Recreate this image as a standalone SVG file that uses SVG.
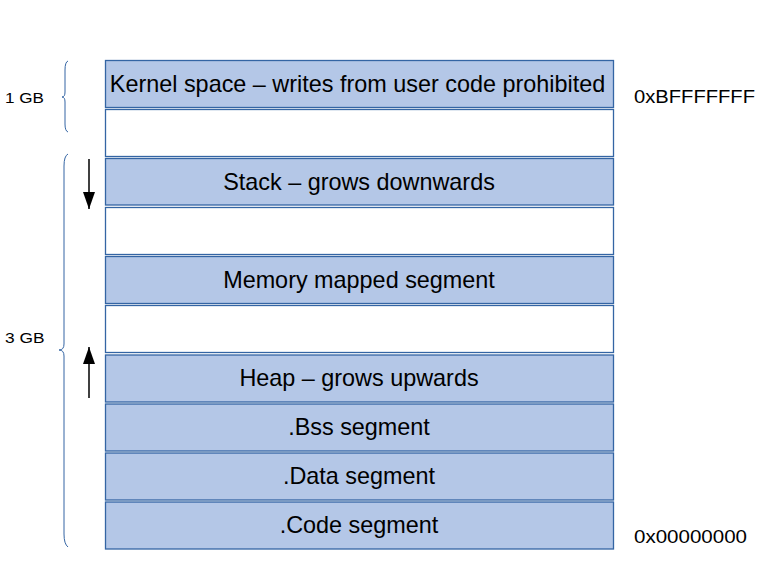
<svg xmlns="http://www.w3.org/2000/svg" width="777" height="580" viewBox="0 0 777 580">
<defs>
<style>
.box{stroke:#3465a4;stroke-width:1.3}
.f{fill:#b4c7e7}
.w{fill:#ffffff}
.t{font-family:"Liberation Sans",Arial,sans-serif;font-size:23.4px;fill:#000;text-anchor:middle}
.a{font-family:"Liberation Sans",Arial,sans-serif;font-size:19px;fill:#000}
.g{font-family:"Liberation Sans",Arial,sans-serif;font-size:15.5px;fill:#000}
.br{fill:none;stroke:#3465a4;stroke-width:1}
.ar{stroke:#000;stroke-width:1.5}
</style>
<marker id="ah" viewBox="0 0 17 12" refX="17" refY="6" markerWidth="17" markerHeight="12" markerUnits="userSpaceOnUse" orient="auto">
<path d="M0,0 L17,6 L0,12 Z" fill="#000"/>
</marker>
</defs>
<rect width="777" height="580" fill="#fff"/>
<g id="kernel"><rect class="box f" x="105.5" y="60.5" width="508" height="47"/><text class="t" x="357.5" y="92.2">Kernel space – writes from user code prohibited</text></g>
<g id="gap1"><rect class="box w" x="105.5" y="109.5" width="508" height="47"/></g>
<g id="stack"><rect class="box f" x="105.5" y="158.5" width="508" height="46.5"/><text class="t" x="359" y="190">Stack – grows downwards</text></g>
<g id="gap2"><rect class="box w" x="105.5" y="207.5" width="508" height="47"/></g>
<g id="mmap"><rect class="box f" x="105.5" y="256.5" width="508" height="47"/><text class="t" x="359" y="288.3">Memory mapped segment</text></g>
<g id="gap3"><rect class="box w" x="105.5" y="305.5" width="508" height="47"/></g>
<g id="heap"><rect class="box f" x="105.5" y="355" width="508" height="47"/><text class="t" x="359" y="386">Heap – grows upwards</text></g>
<g id="bss"><rect class="box f" x="105.5" y="404" width="508" height="47"/><text class="t" x="359" y="434.5">.Bss segment</text></g>
<g id="data"><rect class="box f" x="105.5" y="453" width="508" height="47"/><text class="t" x="359" y="484">.Data segment</text></g>
<g id="code"><rect class="box f" x="105.5" y="502" width="508" height="47"/><text class="t" x="359" y="533.3">.Code segment</text></g>
<g id="addr-top"><text class="a" x="634" y="102.5" textLength="121" lengthAdjust="spacingAndGlyphs">0xBFFFFFFF</text></g>
<g id="addr-bottom"><text class="a" x="634" y="542.5" textLength="113" lengthAdjust="spacingAndGlyphs">0x00000000</text></g>
<g id="brace-1gb"><path class="br" d="M68,61 Q65,62 65,70 L65,92 Q65,97 62,97 Q65,97 65,102 L65,124 Q65,131 68,132"/><text class="g" x="5" y="103" textLength="39" lengthAdjust="spacingAndGlyphs">1 GB</text></g>
<g id="brace-3gb"><path class="br" d="M68,154 Q64,156 64,166 L64,344 Q64,350 59,350 Q64,350 64,356 L64,534 Q64,544 68,547"/><text class="g" x="5" y="343" textLength="39.5" lengthAdjust="spacingAndGlyphs">3 GB</text></g>
<g id="connectors">
<line class="ar" x1="89" y1="159" x2="89" y2="209" marker-end="url(#ah)"/>
<line class="ar" x1="89" y1="398" x2="89" y2="347" marker-end="url(#ah)"/>
</g>
</svg>
